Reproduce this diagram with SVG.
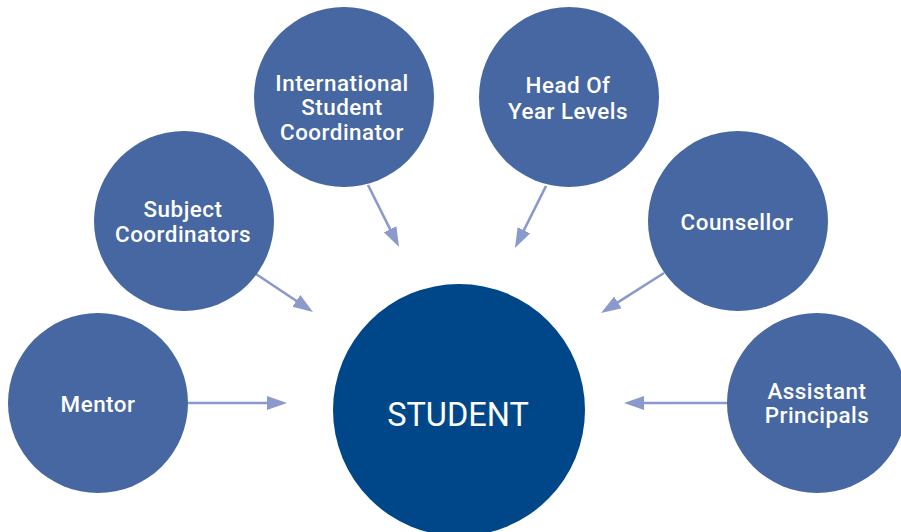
<svg xmlns="http://www.w3.org/2000/svg" width="901" height="532" viewBox="0 0 901 532">
<style>
.node{fill:#4667A2}
.center{fill:#004789}
.lbl{font-family:Roboto,"Liberation Sans",sans-serif;font-size:22.4px;font-weight:500;fill:#FFFFFF;text-anchor:middle;letter-spacing:0.5px}
.big{font-family:Roboto,"Liberation Sans",sans-serif;font-size:32.5px;font-weight:400;fill:#FFFFFF;text-anchor:middle}
.conn{stroke:#8B9ACC;stroke-width:2.6;fill:none;marker-end:url(#ah)}
</style>
<defs>
<marker id="ah" markerUnits="userSpaceOnUse" markerWidth="22" markerHeight="16" refX="2" refY="7" orient="auto" viewBox="0 0 22 16">
<path d="M0,0 L20,7 L0,14 Z" fill="#8B9ACC"/>
</marker>
</defs>
<rect width="901" height="532" fill="#FFFFFF"/>
<g id="connectors">
<line class="conn" x1="188" y1="403" x2="269" y2="403"/>
<line class="conn" x1="256" y1="274" x2="298" y2="302"/>
<line class="conn" x1="368" y1="185" x2="391" y2="231"/>
<line class="conn" x1="546" y1="186" x2="523" y2="232"/>
<line class="conn" x1="664" y1="273" x2="616.2" y2="303.4"/>
<line class="conn" x1="727" y1="403" x2="642" y2="403"/>
</g>
<g id="student">
<circle class="center" cx="459" cy="410" r="126"/>
<text class="big" x="458" y="426">STUDENT</text>
</g>
<g id="mentor">
<circle class="node" cx="98" cy="403" r="90"/>
<text class="lbl" x="98" y="412">Mentor</text>
</g>
<g id="subject-coordinators">
<circle class="node" cx="184" cy="221" r="90"/>
<text class="lbl" x="183" y="217">Subject</text>
<text class="lbl" x="183" y="242">Coordinators</text>
</g>
<g id="international-student-coordinator">
<circle class="node" cx="344" cy="97" r="90"/>
<text class="lbl" x="342" y="91">International</text>
<text class="lbl" x="342" y="115">Student</text>
<text class="lbl" x="342" y="140">Coordinator</text>
</g>
<g id="head-of-year-levels">
<circle class="node" cx="569" cy="97" r="90"/>
<text class="lbl" x="568" y="93">Head Of</text>
<text class="lbl" x="568" y="119">Year Levels</text>
</g>
<g id="counsellor">
<circle class="node" cx="738" cy="221" r="90"/>
<text class="lbl" x="737" y="230">Counsellor</text>
</g>
<g id="assistant-principals">
<circle class="node" cx="817" cy="403" r="90"/>
<text class="lbl" x="817" y="399">Assistant</text>
<text class="lbl" x="817" y="423">Principals</text>
</g>
</svg>
